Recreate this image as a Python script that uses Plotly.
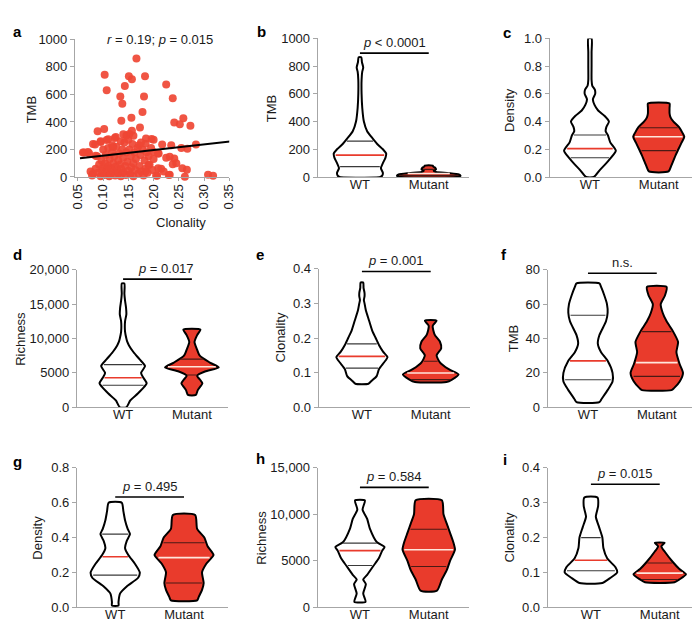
import numpy as np
import plotly.graph_objects as go

# ---------------- DATA ----------------
# Panel a: scatter Clonality vs TMB
a_clonality = [0.166, 0.103, 0.107, 0.151, 0.157, 0.183, 0.143, 0.225, 0.134, 0.138,
               0.181, 0.238, 0.178, 0.136, 0.156, 0.241, 0.259, 0.252, 0.273, 0.173,
               0.102, 0.089, 0.157, 0.146, 0.152, 0.123, 0.107, 0.196, 0.095, 0.084,
               0.284, 0.267, 0.235, 0.217, 0.060, 0.070, 0.085, 0.120, 0.184, 0.171,
               0.200, 0.209, 0.232, 0.241, 0.238, 0.257, 0.266, 0.262, 0.308, 0.318,
               0.232, 0.209, 0.207, 0.190, 0.184,
               0.062, 0.072, 0.075, 0.080, 0.078, 0.085, 0.088, 0.090, 0.092, 0.095,
               0.097, 0.098, 0.100, 0.100, 0.102, 0.104, 0.105, 0.106, 0.108, 0.110,
               0.110, 0.112, 0.113, 0.115, 0.116, 0.118, 0.120, 0.120, 0.122, 0.124,
               0.125, 0.126, 0.128, 0.130, 0.130, 0.132, 0.134, 0.135, 0.136, 0.138,
               0.140, 0.140, 0.142, 0.144, 0.145, 0.146, 0.148, 0.150, 0.150, 0.152,
               0.154, 0.155, 0.156, 0.158, 0.160, 0.160, 0.162, 0.164, 0.165, 0.168,
               0.170, 0.172, 0.174, 0.176, 0.178, 0.180, 0.182, 0.184, 0.186, 0.188,
               0.190, 0.192, 0.195, 0.198, 0.200, 0.205, 0.210, 0.215, 0.220, 0.225,
               0.230, 0.245, 0.255, 0.080, 0.095, 0.110, 0.125, 0.140, 0.160, 0.185,
               0.175, 0.200, 0.135, 0.118]
a_tmb = [862, 744, 630, 732, 711, 732, 661, 673, 585, 533,
         585, 573, 472, 408, 431, 396, 427, 384, 372, 360,
         348, 332, 337, 301, 313, 284, 268, 277, 254, 237,
         237, 206, 230, 237, 178, 182, 154, 218, 242, 230,
         182, 171, 147, 135, 92, 64, 52, 2, 17, 9,
         17, 64, 9, 88, 40,
         178, 172, 40, 25, 10, 60, 150, 30, 90, 5,
         120, 45, 200, 70, 15, 100, 160, 35, 55, 210,
         80, 5, 130, 20, 65, 180, 40, 100, 150, 10,
         75, 220, 50, 120, 25, 170, 90, 5, 60, 200,
         140, 35, 250, 80, 15, 180, 110, 45, 270, 200,
         20, 150, 70, 240, 100, 5, 180, 50, 130, 210,
         25, 80, 160, 40, 200, 10, 120, 60, 180, 30,
         150, 90, 210, 50, 130, 10, 170, 60, 40, 140,
         15, 100, 210, 240, 260, 275, 290, 310, 300, 280,
         250, 270, 260, 230]
a_fit_clonality = [0.054, 0.352]
a_fit_tmb = [136, 258]
a_x_ticks = [0.05, 0.10, 0.15, 0.20, 0.25, 0.30, 0.35]
a_x_ticklabels = ["0.05", "0.10", "0.15", "0.20", "0.25", "0.30", "0.35"]

groups = ["WT", "Mutant"]

# Violin profiles: level values and relative half-widths; quartiles (Q1, median, Q3)
b_wt_levels = [0, 10, 30, 64, 100, 140, 169, 200, 240, 280, 330, 400, 500, 600, 700, 760, 790, 830, 864]
b_wt_width = [62, 68, 70, 64, 70, 78, 80, 70, 52, 38, 22, 12, 7, 5, 5, 7, 10, 6, 4]
b_wt_quart = [75, 158, 259]
b_mut_levels = [0, 8, 18, 28, 36, 45, 55, 65, 75, 82]
b_mut_width = [85, 97, 92, 60, 22, 15, 22, 20, 14, 12]
b_mut_quart = [12, 25, 55]

c_wt_levels = [0, 0.05, 0.1, 0.15, 0.19, 0.25, 0.3, 0.33, 0.36, 0.4, 0.44, 0.48, 0.52, 0.56, 0.6, 0.63, 0.66, 0.7, 0.8, 0.9, 1.0]
c_wt_width = [12, 30, 50, 68, 79, 62, 55, 48, 50, 58, 45, 25, 14, 9, 16, 15, 7, 5, 5, 5, 5]
c_wt_quart = [0.139, 0.205, 0.303]
c_mut_levels = [0.04, 0.08, 0.12, 0.16, 0.2, 0.25, 0.29, 0.32, 0.36, 0.4, 0.43, 0.46, 0.5, 0.53]
c_mut_width = [30, 38, 45, 52, 60, 70, 78, 72, 62, 45, 36, 33, 33, 33]
c_mut_quart = [0.19, 0.29, 0.355]

d_wt_levels = [0, 1000, 2000, 3000, 3500, 4300, 5000, 6000, 7000, 8000, 9000, 9500, 10000, 11000, 12500, 13500, 14500, 15500, 16500, 18000]
d_wt_width = [10, 22, 45, 65, 72, 62, 55, 67, 50, 32, 18, 13, 10, 6, 6, 10, 9, 6, 4, 4]
d_wt_quart = [3200, 4300, 6200]
d_mut_levels = [1800, 2500, 3500, 4000, 4600, 5200, 5800, 6500, 7500, 8500, 9500, 10500, 11300]
d_mut_width = [12, 18, 32, 25, 16, 40, 82, 55, 24, 15, 8, 16, 26]
d_mut_quart = [4700, 5900, 7000]

e_wt_levels = [0.068, 0.075, 0.09, 0.11, 0.13, 0.145, 0.16, 0.18, 0.2, 0.22, 0.25, 0.28, 0.3, 0.31, 0.32, 0.33, 0.345, 0.36]
e_wt_width = [20, 28, 45, 52, 68, 78, 65, 52, 42, 32, 22, 12, 8, 6, 8, 8, 5, 4]
e_wt_quart = [0.113, 0.147, 0.183]
e_mut_levels = [0.073, 0.08, 0.095, 0.11, 0.13, 0.15, 0.17, 0.19, 0.21, 0.235, 0.25]
e_mut_width = [48, 65, 85, 55, 28, 18, 32, 28, 12, 6, 18]
e_mut_quart = [0.08, 0.099, 0.133]

f_wt_levels = [3, 5, 10, 15, 20, 27, 32, 37, 42, 50, 55, 60, 65, 70, 72]
f_wt_width = [35, 42, 60, 75, 75, 60, 40, 30, 35, 55, 60, 58, 50, 40, 35]
f_wt_quart = [16, 27, 53.5]
f_mut_levels = [10, 11, 15, 20, 25, 32, 38, 44, 50, 55, 60, 65, 70]
f_mut_width = [45, 52, 70, 80, 70, 60, 65, 50, 30, 18, 12, 25, 30]
f_mut_quart = [18, 26, 44]

g_wt_levels = [0.01, 0.03, 0.08, 0.12, 0.17, 0.2, 0.25, 0.3, 0.34, 0.38, 0.42, 0.45, 0.5, 0.55, 0.6]
g_wt_width = [10, 10, 15, 35, 70, 75, 60, 40, 30, 35, 45, 38, 30, 25, 20]
g_wt_quart = [0.185, 0.29, 0.42]
g_mut_levels = [0.04, 0.06, 0.1, 0.14, 0.2, 0.25, 0.3, 0.35, 0.4, 0.45, 0.53]
g_mut_width = [40, 45, 55, 60, 55, 68, 90, 72, 62, 40, 34]
g_mut_quart = [0.14, 0.285, 0.37]

h_wt_levels = [600, 1500, 2500, 3000, 3500, 4500, 5300, 6100, 6500, 7000, 8500, 9500, 10500, 11500]
h_wt_width = [17, 10, 18, 10, 22, 42, 58, 68, 75, 52, 30, 22, 8, 15]
h_wt_quart = [4500, 6100, 6900]
h_mut_levels = [1800, 3000, 4000, 5000, 6200, 7000, 8000, 9000, 10000, 11500]
h_mut_width = [25, 40, 55, 65, 80, 75, 65, 55, 45, 40]
h_mut_quart = [4400, 6200, 8400]

i_wt_levels = [0.07, 0.085, 0.1, 0.115, 0.14, 0.17, 0.2, 0.23, 0.26, 0.29, 0.315]
i_wt_width = [35, 60, 80, 75, 50, 38, 35, 25, 15, 22, 20]
i_wt_quart = [0.105, 0.135, 0.2]
i_mut_levels = [0.072, 0.08, 0.095, 0.11, 0.13, 0.16, 0.175, 0.185]
i_mut_width = [45, 60, 80, 60, 40, 15, 5, 15]
i_mut_quart = [0.08, 0.098, 0.127]

# Significance labels and bracket heights
p_labels = {"b": "<i>p</i> < 0.0001", "c": "<i>p</i> = 0.103", "d": "<i>p</i> = 0.017",
            "e": "<i>p</i> = 0.001", "f": "n.s.", "g": "<i>p</i> = 0.495",
            "h": "<i>p</i> = 0.584", "i": "<i>p</i> = 0.015"}
p_bar_y = {"b": 894, "c": 1.056, "d": 18630, "e": 0.392, "f": 77.9, "g": 0.633,
           "h": 12900, "i": 0.353}
a_stat_label = "<i>r</i> = 0.19; <i>p</i> = 0.015"

y_titles = {"a": "TMB", "b": "TMB", "c": "Density", "d": "Richness", "e": "Clonality",
            "f": "TMB", "g": "Density", "h": "Richness", "i": "Clonality"}
y_ticks = {
    "a": ([0, 200, 400, 600, 800, 1000], ["0", "200", "400", "600", "800", "1000"]),
    "b": ([0, 200, 400, 600, 800, 1000], ["0", "200", "400", "600", "800", "1000"]),
    "c": ([0, 0.2, 0.4, 0.6, 0.8, 1.0], ["0.0", "0.2", "0.4", "0.6", "0.8", "1.0"]),
    "d": ([0, 5000, 10000, 15000, 20000], ["0", "5000", "10,000", "15,000", "20,000"]),
    "e": ([0, 0.1, 0.2, 0.3, 0.4], ["0.0", "0.1", "0.2", "0.3", "0.4"]),
    "f": ([0, 20, 40, 60, 80], ["0", "20", "40", "60", "80"]),
    "g": ([0, 0.2, 0.4, 0.6, 0.8], ["0.0", "0.2", "0.4", "0.6", "0.8"]),
    "h": ([0, 5000, 10000, 15000], ["0", "5000", "10,000", "15,000"]),
    "i": ([0, 0.1, 0.2, 0.3, 0.4], ["0.0", "0.1", "0.2", "0.3", "0.4"]),
}

# ---------------- LAYOUT / STYLE ----------------
W, H = 700, 622
RED = "#E93B2C"
DOT = "#EF4634"
AXC = "#A6A6A6"
FONT = "Liberation Sans, Arial, sans-serif"
TXT = "#1a1a1a"

# pixel boxes: (left, right, top, bottom, wt_center_px)
boxes = {
    "a": (63, 220, 25, 166, None),
    "b": (310, 464, 24, 166, 353),
    "c": (546, 700, 24, 166, 587),
    "d": (65, 219, 261, 402, 112),
    "e": (311, 465, 260, 402, 355),
    "f": (544, 698, 261, 402, 585),
    "g": (65, 219, 464, 607, 104),
    "h": (310, 464, 464, 607, 353),
    "i": (544, 698, 464, 607, 588),
}
PX_PER_UNIT = 70.0

fig = go.Figure()
keys = list("abcdefghi")
ax_index = {k: n + 1 for n, k in enumerate(keys)}


def axnames(k):
    n = ax_index[k]
    s = "" if n == 1 else str(n)
    return "x" + s, "y" + s, "xaxis" + s, "yaxis" + s


def px_x(px):
    return px / W


def px_y(py):
    return 1 - py / H


layout_axes = {}
for k in keys:
    l, r, t, b, wt = boxes[k]
    xr, yr, xname, yname = axnames(k)
    tv, tt = y_ticks[k]
    layout_axes[yname] = dict(
        domain=[px_y(b), px_y(t)], range=[tv[0], tv[-1]], tickvals=tv, ticktext=tt,
        showline=True, linecolor=AXC, linewidth=1, ticks="outside", tickcolor=AXC,
        ticklen=4, showgrid=False, zeroline=False, anchor=xr,
        tickfont=dict(family=FONT, size=13, color=TXT))
    if k == "a":
        layout_axes[xname] = dict(
            domain=[px_x(l), px_x(r)], range=[0.044, 0.35], tickvals=a_x_ticks,
            ticktext=a_x_ticklabels, tickangle=-90, showline=True, linecolor=AXC,
            linewidth=1, ticks="outside", tickcolor=AXC, ticklen=3, showgrid=False,
            zeroline=False, anchor=yr, ticklabelstandoff=-2,
            tickfont=dict(family=FONT, size=13, color=TXT))
    else:
        lo = -(wt - l) / PX_PER_UNIT
        hi = lo + (r - l) / PX_PER_UNIT
        layout_axes[xname] = dict(
            domain=[px_x(l), px_x(r)], range=[lo, hi], tickvals=[0, 1], ticktext=groups,
            showline=True, linecolor=AXC, linewidth=1, ticks="", showgrid=False,
            zeroline=False, anchor=yr, ticklabelstandoff=-5,
            tickfont=dict(family=FONT, size=13, color=TXT))

# ----- panel a -----
fig.add_trace(go.Scatter(x=a_clonality, y=a_tmb, mode="markers",
                         marker=dict(color=DOT, size=8, opacity=0.92, line=dict(width=0)),
                         cliponaxis=False, xaxis="x", yaxis="y", hoverinfo="skip"))
fig.add_trace(go.Scatter(x=a_fit_clonality, y=a_fit_tmb, mode="lines",
                         line=dict(color="black", width=2), xaxis="x", yaxis="y",
                         hoverinfo="skip"))


def add_violin(k, center, levels, width, quart, filled):
    xr, yr, _, _ = axnames(k)
    lv = np.asarray(levels, float)
    hw = np.asarray(width, float) / (3 * PX_PER_UNIT)
    xs = np.concatenate([center + hw, (center - hw)[::-1], [center + hw[0]]])
    ys = np.concatenate([lv, lv[::-1], [lv[0]]])
    fig.add_trace(go.Scatter(x=xs, y=ys, mode="lines", fill="toself",
                             fillcolor=RED if filled else "white",
                             line=dict(color="black", width=2, shape="spline", smoothing=0.6),
                             xaxis=xr, yaxis=yr, hoverinfo="skip"))
    for j, q in enumerate(quart):
        w = float(np.interp(q, lv, hw)) - 0.025
        if j == 1:
            col = "#FFE6DC" if filled else RED
            lw = 1.6
        else:
            col = "#4a1a14" if filled else "#3a3a3a"
            lw = 1.1
        fig.add_trace(go.Scatter(x=[center - w, center + w], y=[q, q], mode="lines",
                                 line=dict(color=col, width=lw), xaxis=xr, yaxis=yr,
                                 hoverinfo="skip"))


violin_data = {
    "b": ((b_wt_levels, b_wt_width, b_wt_quart), (b_mut_levels, b_mut_width, b_mut_quart)),
    "c": ((c_wt_levels, c_wt_width, c_wt_quart), (c_mut_levels, c_mut_width, c_mut_quart)),
    "d": ((d_wt_levels, d_wt_width, d_wt_quart), (d_mut_levels, d_mut_width, d_mut_quart)),
    "e": ((e_wt_levels, e_wt_width, e_wt_quart), (e_mut_levels, e_mut_width, e_mut_quart)),
    "f": ((f_wt_levels, f_wt_width, f_wt_quart), (f_mut_levels, f_mut_width, f_mut_quart)),
    "g": ((g_wt_levels, g_wt_width, g_wt_quart), (g_mut_levels, g_mut_width, g_mut_quart)),
    "h": ((h_wt_levels, h_wt_width, h_wt_quart), (h_mut_levels, h_mut_width, h_mut_quart)),
    "i": ((i_wt_levels, i_wt_width, i_wt_quart), (i_mut_levels, i_mut_width, i_mut_quart)),
}

annotations = []
for k, (wt_d, mut_d) in violin_data.items():
    add_violin(k, 0, *wt_d, filled=False)
    add_violin(k, 1, *mut_d, filled=True)
    xr, yr, _, _ = axnames(k)
    fig.add_trace(go.Scatter(x=[0, 1], y=[p_bar_y[k]] * 2, mode="lines",
                             line=dict(color="black", width=1.6), xaxis=xr, yaxis=yr,
                             cliponaxis=False, hoverinfo="skip"))
    tx = 0.62 if k == "d" else 0.5
    annotations.append(dict(x=tx, y=p_bar_y[k], xref=xr, yref=yr, text=p_labels[k],
                            showarrow=False, yanchor="bottom", yshift=1,
                            font=dict(family=FONT, size=13, color=TXT)))

# panel a stats label
annotations.append(dict(x=px_x(150), y=px_y(25), xref="paper", yref="paper",
                        text=a_stat_label, showarrow=False, xanchor="center",
                        yanchor="middle", font=dict(family=FONT, size=13, color=TXT)))
# x title for a
annotations.append(dict(x=px_x(143), y=px_y(213), xref="paper", yref="paper",
                        text="Clonality", showarrow=False,
                        font=dict(family=FONT, size=13, color=TXT)))

# y titles
ytitle_pos = {"a": (19, 97), "b": (263, 96), "c": (505, 97), "d": (8, 332),
              "e": (272, 330), "f": (510, 332), "g": (25, 536), "h": (252, 536),
              "i": (505, 535)}
for k, (xp, yp) in ytitle_pos.items():
    annotations.append(dict(x=px_x(xp), y=px_y(yp), xref="paper", yref="paper",
                            text=y_titles[k], textangle=-90, showarrow=False,
                            xanchor="center", yanchor="middle",
                            font=dict(family=FONT, size=13, color=TXT)))

# panel letters
letter_pos = {"a": (5, 17), "b": (253, 17), "c": (503, 18), "d": (5, 245),
              "e": (251, 245), "f": (500, 245), "g": (5, 458), "h": (252, 454),
              "i": (501, 455)}
for k, (xp, yp) in letter_pos.items():
    annotations.append(dict(x=px_x(xp), y=px_y(yp), xref="paper", yref="paper",
                            text="<b>%s</b>" % k, showarrow=False, xanchor="center",
                            yanchor="middle", font=dict(family=FONT, size=15, color="black")))

fig.update_layout(width=W, height=H, margin=dict(l=0, r=0, t=0, b=0),
                  paper_bgcolor="white", plot_bgcolor="white", showlegend=False,
                  annotations=annotations, **layout_axes)

fig.write_html("out.html")
